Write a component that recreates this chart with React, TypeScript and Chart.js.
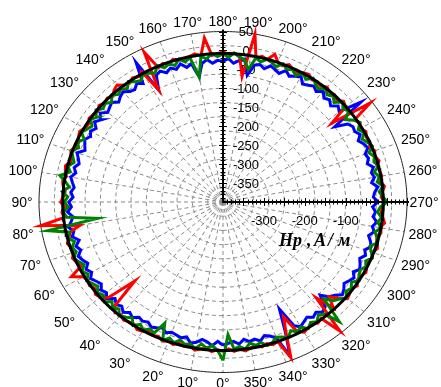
import React, { useEffect, useRef } from "react";
import { Chart, registerables } from "chart.js";

Chart.register(...registerables);

// ---------- data ----------
const R_MIN = -400; // value at the pole
const R_MAX = 50; // value on the outer ring
const ANGLE_STEP_DEG = 2; // sample spacing of the series (0°, 2°, 4° ... 358°)
const REF_LEVEL = -8; // black reference circle

const radialTickLabels = [50, 0, -50, -100, -150, -200, -250, -300, -350];
const horizontalTickLabels = [-300, -200, -100];
const angleTickLabels = [
  0, 10, 20, 30, 40, 50, 60, 70, 80, 90, 100, 110, 120, 130, 140, 150, 160, 170,
  180, 190, 200, 210, 220, 230, 240, 250, 260, 270, 280, 290, 300, 310, 320, 330, 340, 350,
];
const axisTitle = ["Hp", ",", "A", "/", "м"];

// each row = 20° (10 samples every 2°)
const redValues = [
  -6, -10, -4, -12, -8, -3, -11, -7, -12, -5,
  -9, -4, -12, -8, -13, -6, -3, -11, -9, -5,
  -12, -7, -20, -100, -22, -9, -4, -12, -6, -10,
  -5, 20, -14, -8, -3, -11, -9, -4, -12, -18,
  -45, 50, -10, -5, -12, -3, -9, -13, -7, -4,
  -11, -6, -3, -12, -9, -4, -10, -13, -7, -3,
  -10, -12, -5, -8, -12, -4, -10, -6, -12, -2,
  3, -9, -12, -5, -10, -3, -65, 40, -12, -6,
  -12, -4, -10, -12, -7, -3, -11, 35, -12, -8,
  -4, -10, -6, -12, -65, 50, -12, -4, -9, 10,
  -7, -12, -3, -10, -13, -6, -3, -11, -8, -12,
  -4, -10, -7, -13, -3, -9, -62, 45, -12, -5,
  -12, -4, -10, -7, -13, -5, -10, -3, -12, -8,
  -6, -11, -3, -9, -13, -4, -10, -12, -7, -1,
  -10, -5, -12, -8, -3, -11, -6, -13, -9, -4,
  -10, -12, -4, -11, -7, -3, -20, -40, -11, -60,
  45, -10, -5, -12, -8, -3, -13, -62, -20, 43,
  -8, -4, -11, -6, -13, -9, -3, -10, -5, -12,
];

const greenValues = [
  18, -9, -20, -12, -22, -7, -17, -13, -21, -10,
  -18, -6, -50, -15, -21, -10, -19, -7, -22, -14,
  -8, -20, -12, -22, -6, -18, -11, -21, -15, -7,
  -19, -10, -22, -13, -6, -18, -12, -22, -8, -17,
  35, -90, -16, -8, -21, -12, -20, -6, -22, -10,
  5, -18, -9, -21, -14, -6, -19, -11, -22, -8,
  -16, -22, -10, -19, -6, -17, -12, -21, -8, -18,
  -11, -20, -7, -17, -22, -9, -15, -21, -6, -18,
  -13, -21, -8, -19, -10, -65, -12, -20, -7, -16,
  -9, -18, -6, -15, -21, -45, -11, -19, -8, -13,
  -20, -7, -17, -12, -22, -8, -18, -6, -15, -21,
  -9, -19, -12, -22, -6, -17, -10, -30, -14, -5,
  -18, -9, -21, -13, -6, -20, -11, -16, -8, -22,
  -12, -19, -6, -17, -9, 2, -15, -21, -10, -18,
  -7, -20, -12, -8, -22, -14, -6, -18, -11, -19,
  -16, -8, -21, -12, -18, -6, -17, -25, -45, 25,
  -14, -21, -9, -17, -6, -19, -12, -22, -8, -16,
  -20, -10, -6, -18, -13, -22, -8, -17, -11, -50,
];

const blueValues = [
  -22, -32, -20, -29, -34, -24, -19, -33, -27, -31,
  -34, -28, -36, -31, -26, -34, -29, -33, -23, -30,
  -20, -30, -24, -33, -18, -28, -22, -32, -26, -18,
  -29, -21, -32, -24, -18, -30, -22, -34, -20, -27,
  -16, -25, -31, -19, -29, -23, -33, -27, -34, -28,
  -22, -32, -25, -34, -28, -20, -36, -30, -24, -32,
  -26, -34, -21, -31, -19, -32, -27, -22, -33, -25,
  -20, -30, -33, -23, -31, 25, -65, -28, -22, -32,
  -24, -32, -21, -34, -27, -65, -31, -22, -33, -26,
  -29, -21, -33, -25, -19, -60, -31, -26, -34, -22,
  -28, -34, -20, -31, -24, -18, -33, -28, -22, -30,
  -19, -31, -25, -34, -21, -29, 28, -62, -32, -25,
  -28, -20, -32, -23, -18, -30, -26, -33, -21, -29,
  -24, -33, -19, -28, -32, -21, -34, -26, -31, -20,
  -29, -22, -33, -25, -19, -31, -24, -34, -27, -21,
  -32, -22, -28, -34, -25, -19, -32, -40, -58, -27,
  -21, -31, -24, -33, -27, -20, -30, -85, -26, 38,
  -18, -28, -33, -22, -30, -26, -34, -23, -31, -27,
];

// ---------- geometry helpers (polar value -> cartesian data units) ----------
const SPAN = R_MAX - R_MIN;
const DEG = Math.PI / 180;
function toXY(thetaDeg: number, r: number) {
  const rho = r - R_MIN;
  return { x: -rho * Math.sin(thetaDeg * DEG), y: -rho * Math.cos(thetaDeg * DEG) };
}
function seriesToPoints(values: number[]) {
  const pts = values.map((v, i) => toXY(i * ANGLE_STEP_DEG, v));
  pts.push(toXY(values.length * ANGLE_STEP_DEG, values[0]));
  return pts;
}
function refPoints() {
  const pts: { x: number; y: number }[] = [];
  for (let a = 0; a <= 360; a += 1) pts.push(toXY(a, REF_LEVEL));
  return pts;
}

const FONT_SANS = '"Liberation Sans", Arial, sans-serif';

const polarGrid = {
  id: "polarGrid",
  beforeDatasetsDraw(chart: any) {
    const { ctx, scales } = chart;
    const xs = scales.x;
    const ys = scales.y;
    const P = (thetaDeg: number, rho: number) => {
      const t = thetaDeg * DEG;
      return [xs.getPixelForValue(-rho * Math.sin(t)), ys.getPixelForValue(-rho * Math.cos(t))];
    };
    const cx = xs.getPixelForValue(0);
    const cy = ys.getPixelForValue(0);
    ctx.save();
    // dashed rings
    ctx.strokeStyle = "#8a8a8a";
    ctx.lineWidth = 1;
    ctx.setLineDash([4, 3]);
    for (let k = 1; k < 12; k++) {
      const rho = (SPAN * k) / 12;
      ctx.beginPath();
      for (let a = 0; a <= 360; a += 2) {
        const [px, py] = P(a, rho);
        if (a === 0) ctx.moveTo(px, py);
        else ctx.lineTo(px, py);
      }
      ctx.stroke();
    }
    // radial lines
    for (let a = 0; a < 360; a += 10) {
      const [px, py] = P(a, SPAN);
      ctx.beginPath();
      ctx.moveTo(cx, cy);
      ctx.lineTo(px, py);
      ctx.stroke();
    }
    // outer ring
    ctx.setLineDash([]);
    ctx.strokeStyle = "#222";
    ctx.beginPath();
    for (let a = 0; a <= 360; a += 1) {
      const [px, py] = P(a, SPAN);
      if (a === 0) ctx.moveTo(px, py);
      else ctx.lineTo(px, py);
    }
    ctx.stroke();

    // angle labels
    const Rx = xs.getPixelForValue(SPAN) - cx;
    const Ry = cy - ys.getPixelForValue(SPAN);
    ctx.fillStyle = "#000";
    ctx.font = `14px ${FONT_SANS}`;
    ctx.textAlign = "center";
    ctx.textBaseline = "middle";
    angleTickLabels.forEach((a) => {
      const t = a * DEG;
      const boost = 6 * Math.abs(Math.sin(2 * t));
      const lx = cx - (Rx + 17 + boost) * Math.sin(t);
      const ly = cy + (Ry + 10.5 + boost) * Math.cos(t);
      ctx.fillText(`${a}°`, lx, ly + 1);
    });

    // radial tick labels (vertical axis)
    ctx.font = `13px ${FONT_SANS}`;
    radialTickLabels.forEach((v) => {
      const py = ys.getPixelForValue(v - R_MIN);
      ctx.fillText(String(v), cx + 23, py + 1);
    });
    // horizontal axis labels
    horizontalTickLabels.forEach((v) => {
      const px = xs.getPixelForValue(v - R_MIN);
      ctx.fillText(String(v), px, cy + 19);
    });
    ctx.restore();
  },
  afterDatasetsDraw(chart: any) {
    const { ctx, scales } = chart;
    const xs = scales.x;
    const ys = scales.y;
    const cx = xs.getPixelForValue(0);
    const cy = ys.getPixelForValue(0);
    const topY = ys.getPixelForValue(SPAN);
    const rightX = xs.getPixelForValue(SPAN);
    ctx.save();
    ctx.strokeStyle = "#000";
    ctx.lineWidth = 2;
    ctx.beginPath();
    ctx.moveTo(cx, topY - 2);
    ctx.lineTo(cx, cy);
    ctx.lineTo(rightX + 2, cy);
    ctx.stroke();
    // ticks every 10 units
    ctx.lineWidth = 1;
    ctx.beginPath();
    for (let v = 10; v <= SPAN; v += 10) {
      const len = v % 50 === 0 ? 4 : 2.5;
      const py = Math.round(ys.getPixelForValue(v)) + 0.5;
      ctx.moveTo(cx - len, py);
      ctx.lineTo(cx + len, py);
      const px = Math.round(xs.getPixelForValue(v)) + 0.5;
      ctx.moveTo(px, cy - len);
      ctx.lineTo(px, cy + len);
    }
    ctx.stroke();

    // axis title
    ctx.fillStyle = "#000";
    ctx.font = 'bold italic 18px "Liberation Serif", "Times New Roman", serif';
    ctx.textAlign = "left";
    ctx.textBaseline = "alphabetic";
    const xsPos = [279, 307, 314, 328, 338];
    axisTitle.forEach((s, i) => ctx.fillText(s, xsPos[i], 246));
    ctx.restore();
  },
};

export default function App() {
  const ref = useRef<HTMLCanvasElement | null>(null);
  useEffect(() => {
    if (!ref.current) return;
    const W = 441;
    const H = 387;
    const cxPx = 223;
    const cyPx = 202;
    const kx = 184 / SPAN; // px per unit horizontally
    const ky = 170.5 / SPAN; // px per unit vertically
    const common = { showLine: true, pointRadius: 0, pointHoverRadius: 0, fill: false, tension: 0 };
    const chart = new Chart(ref.current, {
      type: "scatter",
      data: {
        datasets: [
          { ...common, label: "ref", data: refPoints(), borderColor: "#000000", borderWidth: 3, order: 0 },
          { ...common, label: "green", data: seriesToPoints(greenValues), borderColor: "#008000", borderWidth: 3, order: 1 },
          { ...common, label: "red", data: seriesToPoints(redValues), borderColor: "#ff0000", borderWidth: 3, order: 2 },
          { ...common, label: "blue", data: seriesToPoints(blueValues), borderColor: "#0000ff", borderWidth: 3, order: 3 },
        ],
      },
      options: {
        animation: false,
        responsive: false,
        events: [],
        layout: { padding: 0 },
        plugins: { legend: { display: false }, tooltip: { enabled: false } },
        scales: {
          x: { type: "linear", display: false, min: -cxPx / kx, max: (W - cxPx) / kx },
          y: { type: "linear", display: false, min: -(H - cyPx) / ky, max: cyPx / ky },
        },
      },
      plugins: [polarGrid],
    } as any);
    return () => chart.destroy();
  }, []);
  return (
    <div style={{ position: "absolute", left: 0, top: 0, width: 441, height: 387, background: "#fff" }}>
      <canvas ref={ref} width={441} height={387} style={{ display: "block" }} />
    </div>
  );
}
